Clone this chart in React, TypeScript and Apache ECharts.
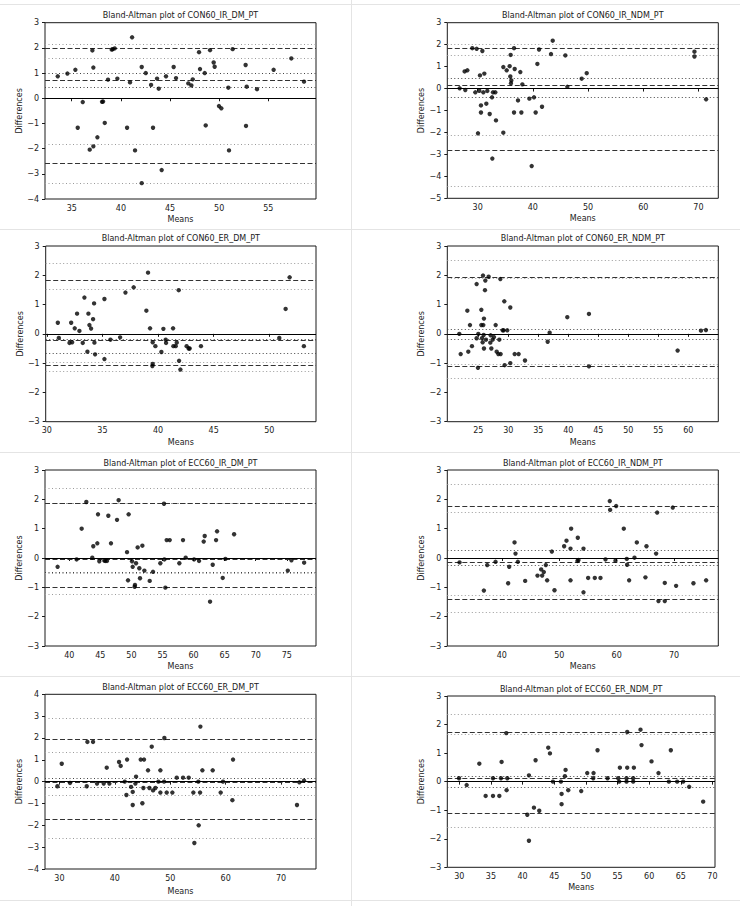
import React, { useEffect, useRef } from "react";
import * as echarts from "echarts";

// [mean of the two methods, difference] for every subject
const con60IrDm = [
  [33.58, 0.87], [34.56, 0.98], [35.37, 1.13], [35.61, -1.17], [36.12, -0.15], [36.83, -2.04],
  [37.1, 1.9], [37.2, 1.22], [37.2, -1.91], [37.61, -1.55], [38.08, -0.14], [38.19, -0.13],
  [38.36, -0.98], [38.69, 0.74], [39.07, 1.93], [39.17, 1.95], [39.37, 1.98], [39.64, 0.78],
  [40.63, -1.17], [40.93, 0.63], [41.14, 2.42], [41.44, -2.07], [42.12, 1.24], [42.12, -3.37],
  [42.53, 1.0], [43.07, 0.53], [43.27, -1.17], [43.68, 0.78], [43.85, 0.38], [44.15, -2.85],
  [44.59, 0.87], [45.37, 1.24], [45.61, 0.8], [46.86, 0.59], [47.17, 0.51], [47.31, 0.75],
  [47.95, 1.83], [48.05, 1.16], [48.53, 1.0], [48.63, -1.08], [49.07, 1.91], [49.44, 1.42],
  [49.54, 1.25], [49.98, -0.31], [50.22, -0.4], [50.93, 0.42], [51.0, -2.07], [51.37, 1.95],
  [52.69, 1.32], [52.73, -1.1], [52.8, 0.46], [53.85, 0.36], [55.54, 1.13], [57.34, 1.58], [58.63, 0.66],
];

const con60IrNdm = [
  [26.74, 0.01], [27.64, 0.78], [27.76, -0.07], [28.13, 0.83], [29.03, 1.84], [29.58, -0.17],
  [29.82, 1.81], [30.06, -2.04], [30.3, -0.1], [30.42, 0.6], [30.6, -0.77], [30.6, -1.09],
  [30.85, 1.71], [31.03, -0.17], [31.21, 0.68], [31.57, -0.69], [31.75, -0.11], [32.18, -1.16],
  [32.6, -0.4], [32.66, -3.19], [32.78, -0.17], [33.2, -0.17], [33.32, -1.45], [34.65, 0.98],
  [34.65, -2.01], [35.26, 0.83], [35.8, 1.02], [35.92, 0.55], [35.98, 1.53], [36.1, 0.37],
  [36.04, 0.24], [36.59, 1.84], [36.59, -1.09], [36.71, 0.89], [37.31, -0.54], [37.73, 0.75],
  [37.92, -1.09], [38.1, 0.19], [39.37, -0.46], [39.79, -3.53], [40.21, -0.4], [40.51, -1.09],
  [40.82, 1.12], [41.12, 1.78], [41.66, -0.83], [43.29, 1.57], [43.6, 2.18], [45.89, 1.51],
  [46.25, 0.08], [48.85, 0.45], [49.76, 0.7], [69.28, 1.68], [69.28, 1.46], [71.39, -0.49],
];

const con60ErDm = [
  [30.99, 0.38], [31.08, -0.14], [32.04, -0.31], [32.19, 0.38], [32.28, -0.29], [32.51, 0.19],
  [32.72, 0.69], [32.93, 0.1], [33.23, -0.31], [33.38, 1.24], [33.65, -0.61], [33.74, 0.69],
  [33.83, 0.3], [33.98, 0.18], [34.16, 0.5], [34.25, 1.04], [34.28, -0.3], [34.34, -0.7],
  [35.18, 1.19], [35.18, -0.86], [35.72, -0.2], [36.59, -0.12], [37.07, 1.41], [37.81, 1.59],
  [38.95, 0.79], [39.1, 2.09], [39.28, 0.19], [39.52, -0.29], [39.52, -1.03], [39.49, -1.1],
  [39.76, -0.42], [40.3, -0.62], [40.48, 0.17], [40.69, -0.2], [40.72, -0.31], [41.35, 0.19],
  [41.38, -0.42], [41.59, -0.42], [41.68, -0.3], [41.86, 1.49], [41.89, -0.92], [42.01, -1.22],
  [42.57, -0.42], [42.75, -0.5], [42.84, -0.5], [43.86, -0.42], [50.9, -0.14], [51.47, 0.85],
  [51.83, 1.93], [53.11, -0.42],
];

const con60ErNdm = [
  [21.83, 0.0], [22.06, -0.69], [23.17, 0.79], [23.33, -0.61], [23.61, 0.3], [23.94, -0.42],
  [24.72, 1.7], [24.72, -0.15], [24.94, -1.16], [25.0, 0.0], [25.5, 0.82], [25.5, 0.3],
  [25.61, -0.15], [25.72, -0.29], [25.78, 1.99], [25.83, 0.3], [25.89, -0.04], [25.94, 0.52],
  [25.94, -0.5], [26.11, 1.49], [26.17, 1.82], [26.28, -0.2], [26.72, 1.95], [27.0, -0.3],
  [27.06, -0.05], [27.17, -0.5], [27.39, -0.2], [27.61, -0.11], [27.89, 0.3], [28.06, -0.61],
  [28.33, -0.69], [28.5, -0.2], [28.67, 1.87], [28.72, -0.69], [29.06, 0.12], [29.22, 0.12],
  [29.33, 1.11], [29.39, -1.07], [29.83, 0.12], [30.33, 0.9], [30.33, -1.0], [31.06, -0.69],
  [31.72, -0.69], [32.78, -0.91], [36.56, -0.27], [36.89, 0.04], [39.83, 0.57], [43.44, 0.68],
  [43.44, -1.11], [58.22, -0.57], [62.11, 0.11], [62.94, 0.13],
];

const ecc60IrDm = [
  [38.12, -0.3], [41.18, -0.05], [41.99, 1.0], [42.74, 1.91], [43.7, 0.01], [43.86, 0.4],
  [44.51, 0.5], [44.62, 1.49], [44.83, -0.11], [45.64, -0.09], [45.8, -0.1], [46.07, -0.1],
  [46.28, 1.44], [46.71, 0.5], [47.68, 1.3], [47.94, 1.97], [49.29, 0.2], [49.45, -0.76],
  [49.55, 1.49], [50.09, -0.11], [50.2, -0.3], [50.52, -0.98], [50.57, -0.92], [50.74, -0.18],
  [51.0, 0.36], [51.27, -0.35], [51.38, -0.69], [51.76, 0.42], [52.08, -0.43], [52.94, -0.78],
  [53.47, -0.47], [54.65, -0.18], [55.24, 1.85], [55.3, -0.05], [55.46, -1.01], [55.67, 0.61],
  [56.16, 0.61], [57.71, -0.18], [58.3, 0.61], [58.73, 0.01], [60.08, -0.05], [60.88, -0.1],
  [61.63, 0.56], [61.79, 0.75], [62.65, -1.49], [63.08, -0.23], [63.62, 0.61], [63.78, 0.91],
  [64.69, -0.68], [65.12, -0.03], [66.52, 0.81], [75.16, -0.43], [75.75, -0.08], [77.79, -0.16],
];

const ecc60IrNdm = [
  [32.63, -0.15], [36.87, -1.11], [37.45, -0.24], [38.9, -0.13], [41.1, -0.86], [41.28, -0.3],
  [42.21, 0.53], [42.38, 0.15], [42.79, -0.13], [44.06, -0.78], [46.21, -0.6], [46.85, -0.39],
  [47.02, -0.6], [47.31, -0.48], [47.66, -0.24], [47.89, -0.76], [48.71, 0.22], [49.17, -1.1],
  [50.85, 0.4], [51.26, 0.59], [51.96, 0.32], [51.96, -0.76], [52.07, 1.0], [53.17, -0.1],
  [53.23, 0.69], [53.35, -0.07], [54.22, 0.32], [54.22, -1.17], [55.03, -0.68], [56.19, -0.68],
  [57.18, -0.68], [58.05, -0.05], [58.8, 1.94], [58.86, 1.64], [59.79, -0.09], [59.91, 1.77],
  [61.24, 1.0], [61.76, -0.03], [61.82, -0.23], [62.17, -0.76], [63.1, 0.01], [63.51, 0.53],
  [65.01, -0.66], [65.19, 0.4], [66.87, 0.15], [67.05, 1.55], [67.28, -1.47], [68.38, -0.85],
  [68.38, -1.47], [69.77, 1.72], [70.35, -0.95], [73.37, -0.86], [75.58, -0.76],
];

const ecc60ErDm = [
  [29.64, -0.21], [30.42, 0.82], [31.92, -0.06], [34.93, -0.21], [35.05, 1.82], [36.07, 1.82],
  [36.79, -0.09], [37.99, -0.09], [38.54, 0.64], [39.02, -0.09], [40.76, 0.9], [41.06, 0.72],
  [41.79, 0.0], [42.09, -0.61], [42.21, 1.01], [42.93, -0.24], [43.23, -0.47], [43.23, -1.07],
  [43.71, -0.09], [43.83, 0.23], [44.67, 1.01], [44.97, -0.99], [45.15, -0.29], [45.27, 1.01],
  [45.99, 0.52], [46.24, -0.29], [46.66, 1.6], [46.9, -0.4], [47.32, -0.29], [47.86, 0.0],
  [48.22, 0.52], [48.22, -0.5], [48.88, 0.0], [48.94, 2.0], [49.36, -0.5], [50.38, -0.5],
  [51.17, 0.18], [52.31, 0.18], [53.33, 0.18], [54.17, -0.5], [54.35, -2.81], [55.07, 0.0],
  [55.13, -2.0], [55.38, -0.5], [55.44, 2.52], [55.8, 0.52], [57.66, 0.52], [59.1, -0.5],
  [59.52, 0.0], [61.21, -0.85], [61.33, 1.01], [72.87, -1.07], [73.3, -0.03], [74.14, 0.05],
];

const ecc60ErNdm = [
  [29.95, 0.12], [31.16, -0.12], [33.16, 0.63], [34.16, -0.5], [35.32, 0.12], [35.32, -0.5],
  [36.32, -0.5], [36.58, 0.12], [36.68, 0.69], [37.42, 1.7], [37.47, -0.3], [37.58, 0.12],
  [40.74, -1.16], [41.0, -2.07], [41.0, 0.22], [41.79, -0.91], [42.05, 0.75], [42.63, -1.02],
  [44.05, 1.19], [44.32, 0.99], [44.79, 0.0], [46.05, 0.0], [46.16, -0.43], [46.16, -0.79],
  [46.68, 0.19], [46.79, 0.41], [47.21, -0.3], [49.26, -0.33], [50.21, 0.3], [51.16, 0.12],
  [51.21, 0.3], [51.84, 1.1], [53.42, 0.12], [55.11, 0.12], [55.26, 0.0], [55.37, 0.49],
  [56.42, 0.12], [56.42, 0.0], [56.53, 1.74], [56.53, 0.49], [57.47, 0.12], [57.47, 0.0],
  [57.58, 0.49], [58.63, 1.82], [58.79, 1.28], [60.37, 0.71], [61.47, 0.3], [63.11, 0.0],
  [63.42, 1.1], [64.42, 0.0], [65.37, 0.0], [66.32, -0.18], [68.53, -0.7],
];

const titles = [
  "Bland-Altman plot of CON60_IR_DM_PT",
  "Bland-Altman plot of CON60_IR_NDM_PT",
  "Bland-Altman plot of CON60_ER_DM_PT",
  "Bland-Altman plot of CON60_ER_NDM_PT",
  "Bland-Altman plot of ECC60_IR_DM_PT",
  "Bland-Altman plot of ECC60_IR_NDM_PT",
  "Bland-Altman plot of ECC60_ER_DM_PT",
  "Bland-Altman plot of ECC60_ER_NDM_PT",
];

// x-axis limits and tick labels
const xLimits = [
  [32.28, 59.85], [24.5, 73.6], [29.9, 54.2], [19.83, 65.0],
  [36.09, 79.7], [30.5, 77.7], [27.4, 76.3], [28.1, 70.4],
];
const xTicks = [
  [35, 40, 45, 50, 55],
  [30, 40, 50, 60, 70],
  [30, 35, 40, 45, 50],
  [25, 30, 35, 40, 45, 50, 55, 60],
  [40, 45, 50, 55, 60, 65, 70, 75],
  [40, 50, 60, 70],
  [30, 40, 50, 60, 70],
  [30, 35, 40, 45, 50, 55, 60, 65, 70],
];

// y-axis limits and tick labels
const yLimits = [[-4, 3], [-5, 3], [-3, 3], [-3, 3], [-3, 3], [-3, 3], [-4, 4], [-3, 3]];
const yTicks = [
  [-4, -3, -2, -1, 0, 1, 2, 3],
  [-5, -4, -3, -2, -1, 0, 1, 2, 3],
  [-3, -2, -1, 0, 1, 2, 3],
  [-3, -2, -1, 0, 1, 2, 3],
  [-3, -2, -1, 0, 1, 2, 3],
  [-3, -2, -1, 0, 1, 2, 3],
  [-4, -3, -2, -1, 0, 1, 2, 3, 4],
  [-3, -2, -1, 0, 1, 2, 3],
];

// mean difference, limits of agreement and their confidence bounds
const meanDiff = [0.71, 0.15, -0.22, -0.03, -0.03, -0.14, -0.05, 0.12];
const limitsOfAgreement = [
  [1.98, -2.58], [1.83, -2.83], [1.82, -1.07], [1.93, -1.11],
  [1.86, -1.01], [1.77, -1.41], [1.92, -1.71], [1.73, -1.1],
];
const meanCi = [
  [1.0, 0.42], [0.45, -0.4], [-0.19, -0.66], [0.15, -0.18],
  [-0.47], [0.28, -0.24], [0.15, -0.27], [0.2, -0.18],
];
const limitsCi = [
  [2.14, 1.58, -1.83, -3.38],
  [2.01, 1.51, -2.13, -4.47],
  [2.4, 1.54, -0.97, -1.29],
  [2.52, 1.9, -1.03, -1.5],
  [2.38, 1.86, -0.52, -1.22],
  [2.51, 1.57, -1.28, -1.84],
  [2.89, 1.34, -0.61, -2.61],
  [2.36, 1.65, -1.61],
];

const pointSets = [con60IrDm, con60IrNdm, con60ErDm, con60ErNdm, ecc60IrDm, ecc60IrNdm, ecc60ErDm, ecc60ErNdm];

// plot boxes on the page (px)
const boxes = [
  { left: 45, top: 22.7, width: 271, height: 176.3 },
  { left: 447.3, top: 22.7, width: 271, height: 175.6 },
  { left: 45.7, top: 246, width: 270.3, height: 175.7 },
  { left: 447.3, top: 246, width: 271, height: 175.7 },
  { left: 45, top: 470, width: 271, height: 176 },
  { left: 447.3, top: 470, width: 271, height: 176 },
  { left: 45, top: 694.3, width: 271, height: 174.7 },
  { left: 447.3, top: 696, width: 267.7, height: 171.3 },
];
const titleY = [15.7, 15.7, 238.3, 238.3, 463.3, 463.3, 687.7, 689];
const xNameGap = [16, 16, 17, 17, 16, 16, 18, 16];

const FONT = "DejaVu Sans";
const INK = "#1a1a1a";

const fmt = (v: number) => (v < 0 ? "\u2212" + Math.abs(v) : String(v));

function buildOption() {
  const grid: any[] = [];
  const xAxis: any[] = [];
  const yAxis: any[] = [];
  const series: any[] = [];
  const graphic: any[] = [];

  // thin frames separating the figure tiles
  const sep = { stroke: "#e4e4e4", lineWidth: 1 };
  [4.5, 229.5, 452.5, 676.5, 900.5].forEach((y) =>
    graphic.push({ type: "line", shape: { x1: 0, y1: y, x2: 740, y2: y }, style: sep, silent: true })
  );
  graphic.push({ type: "line", shape: { x1: 351.5, y1: 0, x2: 351.5, y2: 906 }, style: sep, silent: true });

  pointSets.forEach((points, i) => {
    const b = boxes[i];
    grid.push({
      left: b.left,
      top: b.top,
      width: b.width,
      height: b.height,
      show: true,
      borderColor: INK,
      borderWidth: 1,
      backgroundColor: "transparent",
    });
    xAxis.push({
      type: "value",
      gridIndex: i,
      min: xLimits[i][0],
      max: xLimits[i][1],
      axisLine: { show: false },
      splitLine: { show: false },
      axisTick: { show: true, length: 3, lineStyle: { color: INK }, customValues: xTicks[i] },
      axisLabel: { customValues: xTicks[i], formatter: fmt, fontSize: 8, fontFamily: FONT, color: INK, margin: 5 },
      name: "Means",
      nameLocation: "middle",
      nameGap: xNameGap[i],
      nameTextStyle: { fontSize: 8, fontFamily: FONT, color: INK },
    });
    yAxis.push({
      type: "value",
      gridIndex: i,
      min: yLimits[i][0],
      max: yLimits[i][1],
      axisLine: { show: false },
      splitLine: { show: false },
      axisTick: { show: true, length: 3, lineStyle: { color: INK }, customValues: yTicks[i] },
      axisLabel: { customValues: yTicks[i], formatter: fmt, fontSize: 8, fontFamily: FONT, color: INK, margin: 6 },
      name: "Differences",
      nameLocation: "middle",
      nameGap: 19,
      nameRotate: 90,
      nameTextStyle: { fontSize: 8, fontFamily: FONT, color: INK },
    });

    const lines: any[] = [];
    limitsCi[i].forEach((v) =>
      lines.push({ yAxis: v, lineStyle: { type: [1, 2.5], color: "#9a9a9a", width: 1 } })
    );
    meanCi[i].forEach((v) =>
      lines.push({ yAxis: v, lineStyle: { type: [1, 2.5], color: "#444", width: 1 } })
    );
    limitsOfAgreement[i].forEach((v) =>
      lines.push({ yAxis: v, lineStyle: { type: [5, 2.5], color: "#333", width: 1.1 } })
    );
    lines.push({ yAxis: meanDiff[i], lineStyle: { type: [5, 2.5], color: "#333", width: 1.1 } });
    lines.push({ yAxis: 0, lineStyle: { type: "solid", color: "#000", width: 1.2 } });

    series.push({
      type: "scatter",
      xAxisIndex: i,
      yAxisIndex: i,
      data: points,
      symbol: "circle",
      symbolSize: 4.4,
      itemStyle: { color: "#000" },
      silent: true,
      z: 3,
      markLine: {
        silent: true,
        symbol: ["none", "none"],
        label: { show: false },
        data: lines,
        z: 2,
      },
    });

    graphic.push({
      type: "text",
      x: b.left + b.width / 2,
      y: titleY[i],
      silent: true,
      style: {
        text: titles[i],
        fontSize: 8,
        fontFamily: FONT,
        fill: INK,
        align: "center",
        verticalAlign: "middle",
      },
    });
  });

  return {
    animation: false,
    backgroundColor: "#ffffff",
    textStyle: { fontFamily: FONT },
    grid,
    xAxis,
    yAxis,
    series,
    graphic,
  };
}

export default function App() {
  const ref = useRef<HTMLDivElement>(null);
  useEffect(() => {
    if (!ref.current) return;
    const chart = echarts.init(ref.current, null, { renderer: "svg" });
    chart.setOption(buildOption());
    return () => chart.dispose();
  }, []);
  return (
    <div
      ref={ref}
      style={{ position: "absolute", left: 0, top: 0, width: 740, height: 906, background: "#fff" }}
    />
  );
}
